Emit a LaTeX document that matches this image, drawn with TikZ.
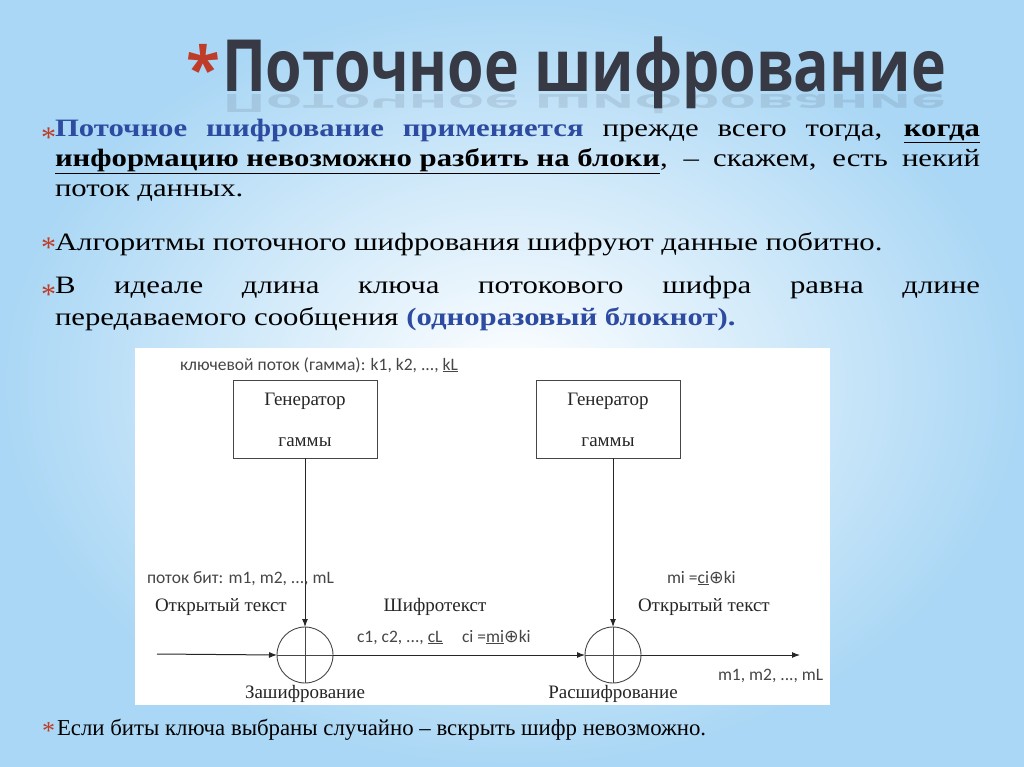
\documentclass[tikz,border=0pt]{standalone}
\usepackage{fontspec}
\setmainfont{Liberation Serif}
\newfontfamily\ttl{Open Sans}
\newfontfamily\dsans{Carlito}
\newfontfamily\djsym{DejaVu Sans}
\usetikzlibrary{arrows.meta}
\definecolor{bg}{RGB}{170,215,245}
\definecolor{star}{RGB}{190,60,40}
\definecolor{bl}{RGB}{45,75,160}
\definecolor{tg}{RGB}{55,58,68}
\definecolor{dg}{RGB}{70,70,70}
\begin{document}
\begin{tikzpicture}[x=1pt,y=-1pt,
  every node/.style={inner sep=0pt,outer sep=0pt},
  gbox/.style={draw=dg,line width=1pt},
  ln/.style={draw=black!85,line width=1pt},
  arr/.style={ln,-{Latex[length=8pt,width=6pt]}},
  sl/.style={font=\dsans\fontsize{17.5}{19}\selectfont,text=dg,anchor=base west},
  rl/.style={font=\fontsize{19}{21}\selectfont,text=black!85,anchor=base},
  body/.style={anchor=north west,text width=752pt,align=justify,xscale=1.23,transform shape},
  bul/.style={font=\fontsize{30}{30}\selectfont,text=star,anchor=base east}]
\useasboundingbox (0,0) rectangle (1024,767);
\shade[inner color=white,outer color=bg] (0,0) rectangle (1024,767);
% title
\node[font=\ttl\bfseries\fontsize{62}{62}\selectfont,text=star,anchor=base east] at (220,92) {*};
\node (title) [font=\ttl\bfseries\fontsize{72}{72}\selectfont,text=tg,anchor=base west,xscale=0.82,transform shape] at (222,92) {Поточное шифрование};
\node[font=\ttl\bfseries\fontsize{72}{72}\selectfont,text=tg,opacity=0.12,anchor=base west,xscale=0.82,yscale=-0.35,transform shape] at (222,95) {Поточное шифрование};
% bullets
\node[bul] at (56,148) {*};
\node (t1) [body,font=\fontsize{25}{30}\selectfont] at (55,119)
 {\textcolor{bl}{\textbf{Поточное шифрование применяется}} прежде всего тогда, \textbf{\underline{когда}\linebreak \underline{информацию невозможно разбить на блоки}}, – скажем, есть некий\linebreak поток данных.};
\node[bul] at (56,257) {*};
\node (t2) [anchor=base west,font=\fontsize{25}{30}\selectfont,xscale=1.23,transform shape] at (55,251) {Алгоритмы поточного шифрования шифруют данные побитно.};
\node[bul] at (56,304) {*};
\node (t3) [body,font=\fontsize{25}{32}\selectfont] at (55,276)
 {В идеале длина ключа потокового шифра равна длине\linebreak передаваемого сообщения \textcolor{bl}{\textbf{(одноразовый блокнот).}}};
% diagram
\fill[white] (135,348) rectangle (830,705);
\node (g1) [gbox,minimum width=144pt,minimum height=78pt] at (305,419) {};
\node (g2) [gbox,minimum width=144pt,minimum height=78pt] at (608,419) {};
\node[rl] at (305,405) {Генератор};
\node[rl] at (305,446) {гаммы};
\node[rl] at (608,405) {Генератор};
\node[rl] at (608,446) {гаммы};
\node (x1) [draw=dg,line width=0.9pt,circle,minimum size=56pt] at (305,655) {};
\node (x2) [draw=dg,line width=0.9pt,circle,minimum size=56pt] at (613,655) {};
\draw[draw=dg,line width=0.8pt] (x1.north) -- (x1.south) (x1.west) -- (x1.east);
\draw[draw=dg,line width=0.8pt] (x2.north) -- (x2.south) (x2.west) -- (x2.east);
\coordinate (in) at (157,654);
\coordinate (out) at (800,655);
\draw[arr] (in) -- (x1.west);
\draw[arr] (x1.east) -- (x2.west);
\draw[arr] (x2.east) -- (out);
\draw[arr] (g1.south) -- (x1.north);
\draw[arr] (x2.north |- g2.south) -- (x2.north);
\node[sl] at (180,370) {ключевой поток (гамма): k1, k2, ..., \underline{kL}};
\node[sl] at (147,583) {поток бит: m1, m2, ..., mL};
\node[sl] at (667,583) {mi =\underline{ci}{\djsym ⊕}ki};
\node[sl] at (357,642) {c1, c2, ..., \underline{cL}};
\node[sl] at (462,642) {ci =\underline{mi}{\djsym ⊕}ki};
\node[sl] at (718,680) {m1, m2, ..., mL};
\node[rl,anchor=base west] at (155,611) {Открытый текст};
\node[rl] at (435,611) {Шифротекст};
\node[rl,anchor=base west] at (638,611) {Открытый текст};
\node[rl] at (305,698) {Зашифрование};
\node[rl] at (613,698) {Расшифрование};
\node[font=\fontsize{26}{26}\selectfont,text=star,anchor=base east] at (55,739) {*};
\node[anchor=base west,font=\fontsize{22.8}{22}\selectfont] at (57,735) {Если биты ключа выбраны случайно – вскрыть шифр невозможно.};
\end{tikzpicture}
\end{document}
